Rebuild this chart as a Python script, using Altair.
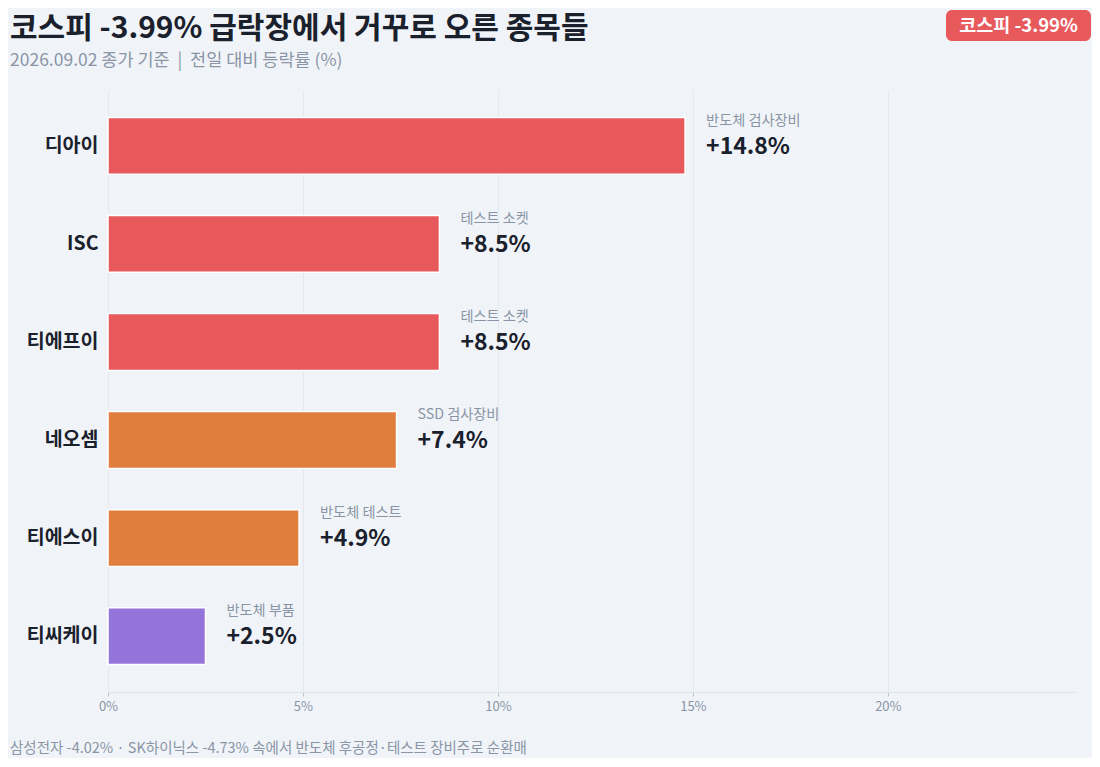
import altair as alt
import pandas as pd

# data
names = ["디아이", "ISC", "티에프이", "네오셈", "티에스이", "티씨케이"]
changes = [14.8, 8.5, 8.5, 7.4, 4.9, 2.5]
sectors = ["반도체 검사장비", "테스트 소켓", "테스트 소켓", "SSD 검사장비", "반도체 테스트", "반도체 부품"]
x_ticks = [0, 5, 10, 15, 20]

title_text = "코스피 -3.99% 급락장에서 거꾸로 오른 종목들"
subtitle_text = "2026.09.02 종가 기준\u00a0\u00a0|\u00a0\u00a0전일 대비 등락률 (%)"
footer_text = "삼성전자 -4.02% · SK하이닉스 -4.73% 속에서 반도체 후공정·테스트 장비주로 순환매"
badge_text = "코스피 -3.99%"

# styling
bar_colors = ["#E8595C", "#E8595C", "#E8595C", "#E07E3E", "#E07E3E", "#9474D9"]
FONT = "Noto Sans CJK KR"
BG = "#F0F4F8"
DARK = "#1A202C"
GRAY = "#8A94A6"

df = pd.DataFrame({"name": names, "change": changes, "sector": sectors})
df["label"] = ["+{:.1f}%".format(v) for v in changes]

W, H = 967, 602

base = alt.Chart(df).encode(
    y=alt.Y("name:N", sort=names, title=None,
            scale=alt.Scale(paddingInner=0.42, paddingOuter=0.28),
            axis=alt.Axis(domain=False, ticks=False, labelFont=FONT, labelFontSize=19.5,
                          labelFontWeight="bold", labelColor=DARK, labelPadding=10))
)

bars = base.mark_bar(stroke="white", strokeWidth=1.5).encode(
    x=alt.X("change:Q", title=None,
            scale=alt.Scale(domain=[0, 24.8], nice=False),
            axis=alt.Axis(values=x_ticks, labelExpr="datum.value + '%'", labelFont=FONT,
                          labelFontSize=13, labelColor=GRAY, labelPadding=4, labelFlush=False,
                          domainColor="#DDE3EA", tickColor="#B8C1CC", tickSize=4,
                          gridColor="#E2E8EE", grid=True)),
    color=alt.Color("name:N", scale=alt.Scale(domain=names, range=bar_colors), legend=None),
)

values = base.mark_text(align="left", baseline="middle", dx=21, dy=1, font=FONT,
                        fontSize=23, fontWeight="bold", color=DARK).encode(
    x="change:Q", text="label:N")

sector_lbl = base.mark_text(align="left", baseline="middle", dx=21, dy=-25, font=FONT,
                            fontSize=14.2, color=GRAY).encode(
    x="change:Q", text="sector:N")

deco = alt.Chart(pd.DataFrame({"t": [title_text]}))

title = deco.mark_text(align="left", baseline="middle", font=FONT, fontSize=30,
                       fontWeight="bold", color=DARK).encode(
    x=alt.value(-98), y=alt.value(-61), text=alt.value(title_text))
subtitle = deco.mark_text(align="left", baseline="middle", font=FONT, fontSize=17.5,
                          color=GRAY).encode(
    x=alt.value(-98), y=alt.value(-29), text=alt.value(subtitle_text))
footer = deco.mark_text(align="left", baseline="middle", font=FONT, fontSize=14.5,
                        color=GRAY).encode(
    x=alt.value(-98), y=alt.value(659), text=alt.value(footer_text))
badge = deco.mark_rect(color="#E8595C", cornerRadius=6).encode(
    x=alt.value(838), x2=alt.value(983), y=alt.value(-80), y2=alt.value(-49))
badge_txt = deco.mark_text(align="center", baseline="middle", font=FONT, fontSize=18.5,
                           fontWeight="bold", color="white").encode(
    x=alt.value(910.5), y=alt.value(-64.5), text=alt.value(badge_text))

chart = alt.layer(bars, sector_lbl, values, title, subtitle, footer, badge, badge_txt).properties(
    width=W, height=H,
    autosize=alt.AutoSizeParams(type="none"),
    padding={"left": 100, "top": 82, "right": 17, "bottom": 66},
    background=BG,
).configure_view(stroke=None)

chart.save("out.html", embed_options={"renderer": "svg", "actions": False})
